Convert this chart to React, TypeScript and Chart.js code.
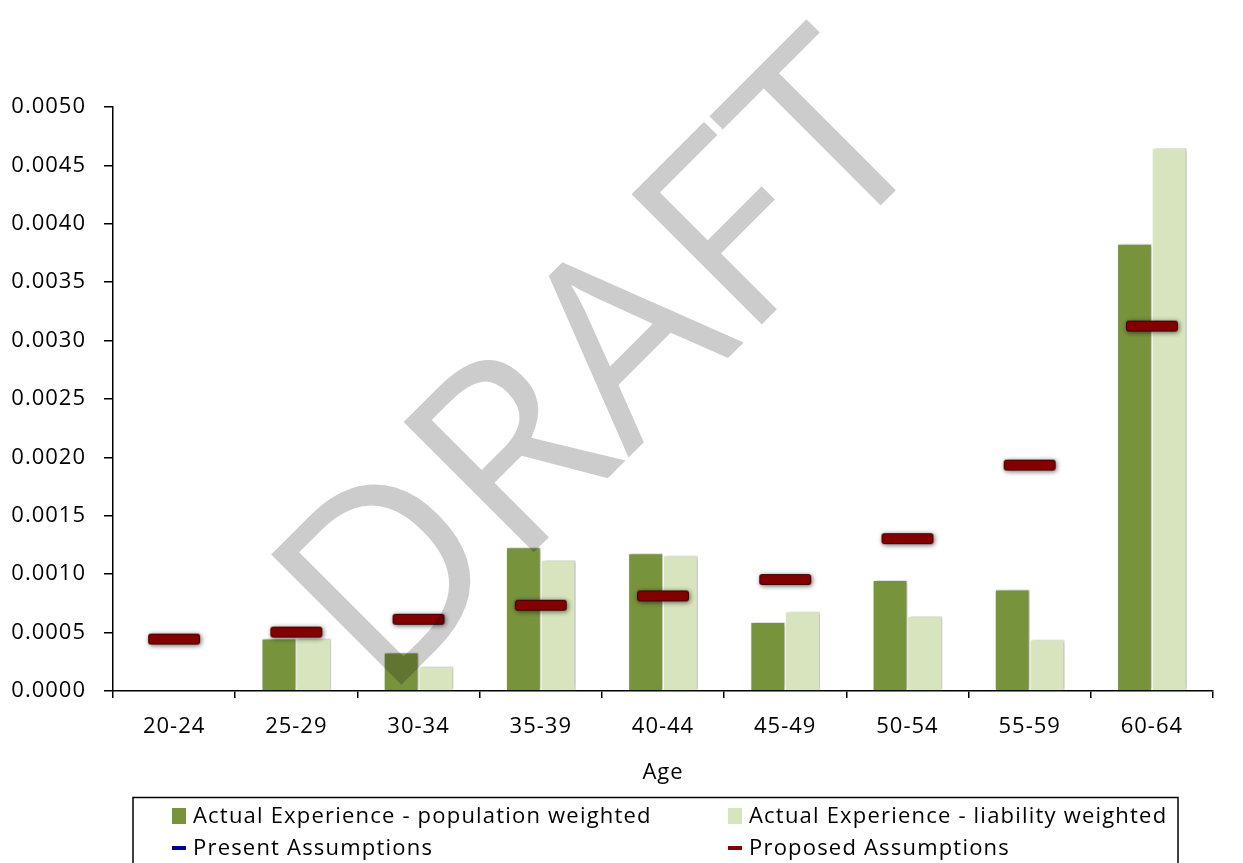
import React, { useEffect, useRef } from 'react';
import { Chart, registerables } from 'chart.js';

Chart.register(...registerables);

// ---- data ----
const categories = ['20-24', '25-29', '30-34', '35-39', '40-44', '45-49', '50-54', '55-59', '60-64'];
const populationWeighted = [0, 0.00045, 0.00033, 0.00123, 0.00118, 0.00059, 0.00095, 0.00087, 0.00383];
const liabilityWeighted = [0, 0.00045, 0.00021, 0.00112, 0.00116, 0.00068, 0.00064, 0.00044, 0.00465];
const presentAssumptions: (number | null)[] = [null, null, null, null, null, null, null, null, null];
const proposedAssumptions = [0.00044, 0.0005, 0.00061, 0.00073, 0.00081, 0.00095, 0.0013, 0.00193, 0.00312];
const seriesLabels = [
  'Actual Experience - population weighted',
  'Actual Experience - liability weighted',
  'Present Assumptions',
  'Proposed Assumptions',
];
const yMin = 0;
const yMax = 0.005;
const yStep = 0.0005;
const xTitle = 'Age';
const watermark = 'DRAFT';

const FONT = "'Open Sans', sans-serif";

function makeDash(color: string, edge: string): HTMLCanvasElement {
  const c = document.createElement('canvas');
  c.width = 66;
  c.height = 26;
  const g = c.getContext('2d')!;
  g.shadowColor = 'rgba(0,0,0,0.6)';
  g.shadowBlur = 5;
  g.shadowOffsetX = 1;
  g.shadowOffsetY = 1;
  g.fillStyle = color;
  g.beginPath();
  (g as any).roundRect(7, 7, 52, 11, 3);
  g.fill();
  g.shadowColor = 'transparent';
  g.strokeStyle = edge;
  g.lineWidth = 1;
  g.beginPath();
  (g as any).roundRect(7.5, 7.5, 51, 10, 3);
  g.stroke();
  return c;
}

const spacingPlugin = {
  id: 'spacing',
  beforeUpdate(chart: any) {
    chart.ctx.letterSpacing = '1px';
  },
  beforeDraw(chart: any) {
    chart.ctx.letterSpacing = '1px';
  },
};

const barShadowPlugin = {
  id: 'barShadow',
  beforeDatasetDraw(chart: any, args: any) {
    const ctx = chart.ctx;
    ctx.save();
    if (args.meta.type === 'bar') {
      ctx.shadowColor = 'rgba(0,0,0,0.3)';
      ctx.shadowBlur = 4;
      ctx.shadowOffsetX = 2;
      ctx.shadowOffsetY = 0;
    }
  },
  afterDatasetDraw(chart: any) {
    chart.ctx.restore();
  },
};

const legendPlugin = {
  id: 'boxLegend',
  afterDraw(chart: any) {
    const ctx = chart.ctx;
    ctx.save();
    ctx.letterSpacing = '1.2px';
    ctx.strokeStyle = '#000';
    ctx.lineWidth = 1.5;
    ctx.strokeRect(133, 797.5, 1045, 120);
    const colX = [172, 728];
    const rowY = [816, 848];
    ctx.font = `22px ${FONT}`;
    ctx.textBaseline = 'middle';
    ctx.textAlign = 'left';
    chart.data.datasets.forEach((ds: any, i: number) => {
      const x = colX[i % 2];
      const y = rowY[Math.floor(i / 2)];
      if (ds.type === 'line') {
        ctx.fillStyle = ds.legendColor;
        ctx.fillRect(x, y - 2, 14, 4);
      } else {
        ctx.fillStyle = ds.backgroundColor;
        ctx.fillRect(x, y - 8, 14, 16);
      }
      ctx.fillStyle = '#000';
      ctx.fillText(ds.label, x + 21, y + 1);
    });
    ctx.restore();
  },
};

const watermarkPlugin = {
  id: 'watermark',
  afterDraw(chart: any) {
    const ctx = chart.ctx;
    ctx.save();
    ctx.letterSpacing = '0px';
    ctx.translate(596, 360);
    ctx.rotate(-Math.PI / 4);
    ctx.font = `500 258px ${FONT}`;
    ctx.textAlign = 'center';
    ctx.textBaseline = 'alphabetic';
    ctx.fillStyle = 'rgba(0,0,0,0.2)';
    ctx.fillText(watermark, 0, 92);
    ctx.restore();
  },
};

export default function App() {
  const ref = useRef<HTMLCanvasElement | null>(null);

  useEffect(() => {
    document.body.style.margin = '0';
    document.body.style.overflow = 'hidden';
    let chart: Chart | null = null;
    let cancelled = false;

    const build = () => {
      if (cancelled || !ref.current) return;
      const dash = makeDash('#820000', '#3c0000');
      chart = new Chart(ref.current, {
        type: 'bar',
        data: {
          labels: categories,
          datasets: [
            {
              type: 'bar',
              label: seriesLabels[0],
              data: populationWeighted,
              backgroundColor: '#77933C',
              borderColor: '#ffffff',
              borderWidth: 1,
              categoryPercentage: 0.57,
              barPercentage: 1,
              order: 1,
            },
            {
              type: 'bar',
              label: seriesLabels[1],
              data: liabilityWeighted,
              backgroundColor: '#D7E4BD',
              borderColor: '#ffffff',
              borderWidth: 1,
              categoryPercentage: 0.57,
              barPercentage: 1,
              order: 1,
            },
            {
              type: 'line',
              label: seriesLabels[2],
              data: presentAssumptions,
              showLine: false,
              pointStyle: makeDash('#000090', '#000040'),
              pointRadius: 5,
              legendColor: '#000090',
              order: 0,
            } as any,
            {
              type: 'line',
              label: seriesLabels[3],
              data: proposedAssumptions,
              showLine: false,
              pointStyle: dash,
              pointRadius: 5,
              legendColor: '#820000',
              order: 0,
            } as any,
          ],
        },
        options: {
          responsive: false,
          animation: false,
          events: [],
          layout: { padding: { top: 107, right: 30, bottom: 77, left: 0 } },
          plugins: {
            legend: { display: false },
            tooltip: { enabled: false },
          },
          scales: {
            x: {
              grid: {
                offset: true,
                drawOnChartArea: false,
                drawTicks: true,
                tickLength: 7,
                color: '#000',
                lineWidth: 1.5,
              },
              border: { display: true, color: '#000', width: 1.5 },
              ticks: {
                color: '#000',
                font: { family: FONT, size: 22 },
                padding: 16,
                maxRotation: 0,
              },
              title: {
                display: true,
                text: xTitle,
                color: '#000',
                font: { family: FONT, size: 22 },
                padding: { top: 0, bottom: 0 },
              },
              afterFit(scale: any) {
                scale.height = 95;
              },
            },
            y: {
              min: yMin,
              max: yMax,
              grid: {
                drawOnChartArea: false,
                drawTicks: true,
                tickLength: 9,
                color: '#000',
                lineWidth: 1.5,
              },
              border: { display: true, color: '#000', width: 1.5 },
              ticks: {
                stepSize: yStep,
                color: '#000',
                font: { family: FONT, size: 22 },
                padding: 18,
                callback: (v: any) => Number(v).toFixed(4),
              },
              afterFit(scale: any) {
                scale.width = 113;
              },
            },
          },
        },
        plugins: [spacingPlugin, barShadowPlugin, legendPlugin, watermarkPlugin],
      });
    };

    const fontsReady = (document as any).fonts
      ? Promise.all([
          (document as any).fonts.load(`22px "Open Sans"`),
          (document as any).fonts.load(`500 258px "Open Sans"`),
        ]).catch(() => null)
      : Promise.resolve(null);
    fontsReady.then(build);

    return () => {
      cancelled = true;
      if (chart) chart.destroy();
    };
  }, []);

  return (
    <div style={{ width: 1243, height: 863, overflow: 'hidden' }}>
      <canvas ref={ref} width={1243} height={863} style={{ display: 'block' }} />
    </div>
  );
}
